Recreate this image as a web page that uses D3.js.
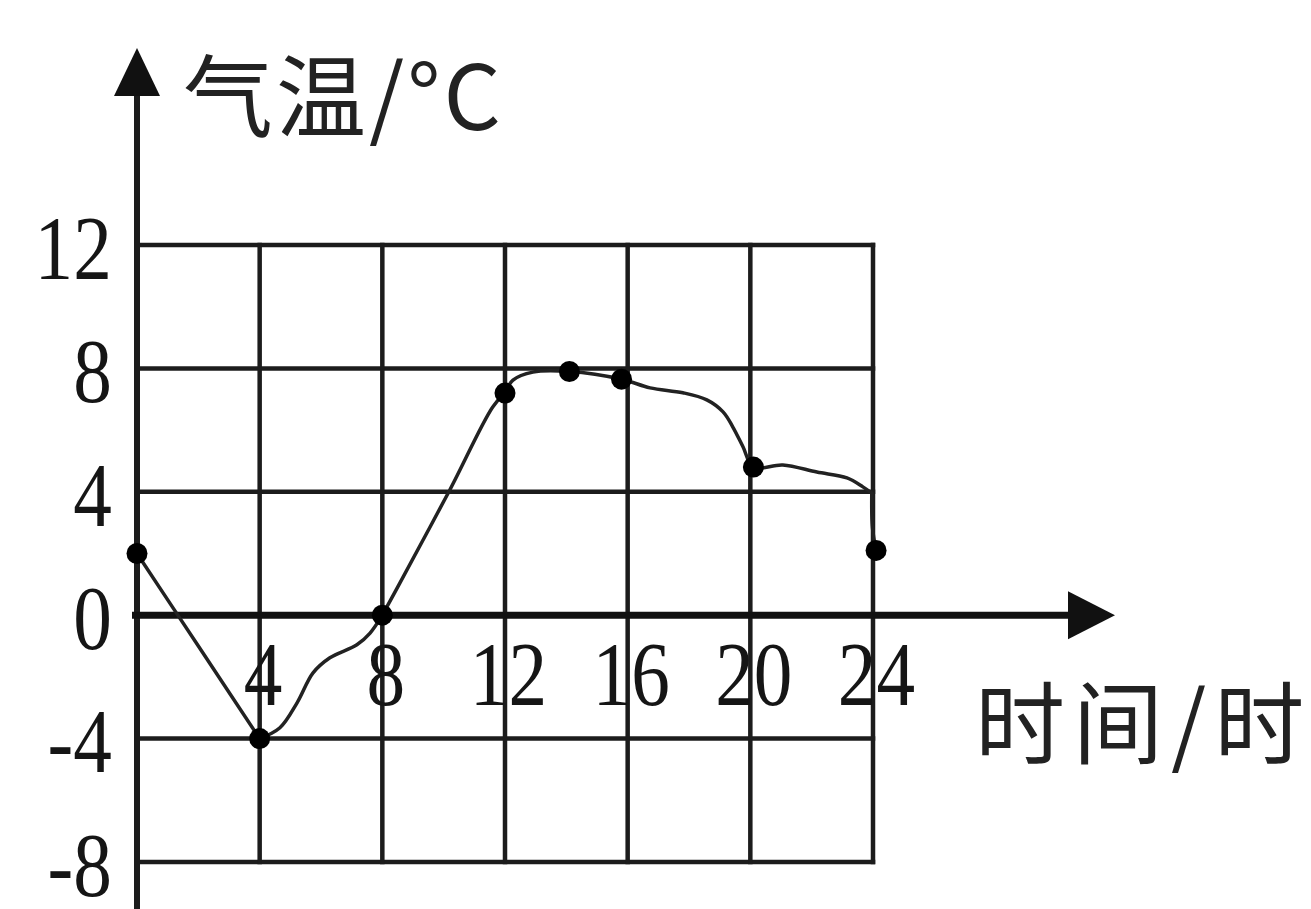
<!DOCTYPE html>
<html>
<head>
<meta charset="utf-8">
<script src="https://cdn.jsdelivr.net/npm/d3@7"></script>
<style>
  html, body { margin: 0; padding: 0; background: #fff; }
  .tick-label { font-family: "Liberation Serif", "Times New Roman", serif; fill: #151515; }
  .title { font-family: "Noto Sans CJK SC", "Noto Sans", sans-serif; fill: #222; }
</style>
</head>
<body>
<div id="chart"></div>
<script>
// ----------------------------------------------------------------------------
// Data: temperature over one day
// ----------------------------------------------------------------------------

const xTicks = [4, 8, 12, 16, 20, 24];
const yTicks = [12, 8, 4, 0, -4, -8];
const xGrid = [4, 8, 12, 16, 20, 24];
const yGrid = [12, 8, 4, -4, -8];

// marked points [hour, temp]
const dotHours = [0, 4, 8, 12, 14.1, 15.8, 20.1, 24.1];
const dotTemps = [2, -4, 0, 7.2, 7.9, 7.65, 4.8, 2.1];

// the drawn curve
const curveHours = [0, 2, 4, 4.66, 5.22, 5.74, 6.29, 7.17, 7.6, 8, 8.57, 10.2, 11.6, 12, 12.26, 12.91, 14.1, 15.8, 16.73, 17.8, 18.58, 19.11, 19.43, 19.76, 20.1, 21.06, 22.17, 23.15, 23.67, 23.96, 23.98, 24.1];
const curveTemps = [2, -1, -4, -3.65, -2.84, -1.87, -1.38, -0.96, -0.58, 0, 1.04, 4.06, 6.75, 7.2, 7.62, 7.88, 7.9, 7.65, 7.37, 7.21, 6.98, 6.59, 6.1, 5.46, 4.8, 4.87, 4.64, 4.45, 4.16, 3.96, 2.86, 2.1];

// hours where the pen made a sharp turn
const cornerHours = [4, 8, 12, 23.96];

const xTitle = '时间/时';
const yTitle = '气温/°C';

// ----------------------------------------------------------------------------
// Setup
// ----------------------------------------------------------------------------

const W = 1311, H = 909;

const svg = d3.select('#chart').append('svg')
  .attr('width', W)
  .attr('height', H)
  .style('display', 'block');

svg.append('rect').attr('width', W).attr('height', H).attr('fill', '#fff');

const x = d3.scaleLinear().domain([0, 24]).range([137, 873]);
const y = d3.scaleLinear().domain([-8, 12]).range([862, 245]);

const ink = '#1c1c1c';

// ----------------------------------------------------------------------------
// grid

const grid = svg.append('g').attr('class', 'grid')
  .attr('stroke', ink)
  .attr('stroke-width', 4.5)
  .attr('stroke-linecap', 'square');

grid.selectAll('.hline')
  .data(yGrid)
  .enter()
  .append('line')
  .attr('x1', x(0))
  .attr('x2', x(24))
  .attr('y1', d => y(d))
  .attr('y2', d => y(d));

grid.selectAll('.vline')
  .data(xGrid)
  .enter()
  .append('line')
  .attr('x1', d => x(d))
  .attr('x2', d => x(d))
  .attr('y1', y(12))
  .attr('y2', y(-8));

// ----------------------------------------------------------------------------
// axes with arrows

const axes = svg.append('g').attr('class', 'axes');

axes.append('line')
  .attr('x1', x(0)).attr('x2', x(0))
  .attr('y1', H).attr('y2', y(12) - 150)
  .attr('stroke', ink).attr('stroke-width', 6);

axes.append('path')
  .attr('d', `M${x(0)},${y(12) - 197} L${x(0) - 23},${y(12) - 149} L${x(0) + 23},${y(12) - 149} Z`)
  .attr('fill', '#111');

axes.append('line')
  .attr('x1', x(0) - 5).attr('x2', 1075)
  .attr('y1', y(0)).attr('y2', y(0))
  .attr('stroke', '#111').attr('stroke-width', 7);

axes.append('path')
  .attr('d', `M1115,${y(0)} L1068,${y(0) - 24} L1068,${y(0) + 24} Z`)
  .attr('fill', '#111');

// tick labels through d3 axes, squeezed like the scan
const yAxis = svg.append('g')
  .attr('transform', `translate(${x(0)},2)`)
  .call(d3.axisLeft(y).tickValues(yTicks).tickSize(0).tickPadding(30).tickFormat(d => String(d)));

const xAxis = svg.append('g')
  .attr('transform', `translate(3,${y(0)})`)
  .call(d3.axisBottom(x).tickValues(xTicks).tickSize(0).tickPadding(0).tickFormat(d => String(d)));

[yAxis, xAxis].forEach(a => {
  a.select('.domain').remove();
  a.selectAll('.tick line').remove();
  a.selectAll('.tick text')
    .attr('class', 'tick-label')
    .attr('fill', null)
    .style('font-size', '92px')
    .attr('transform', 'scale(0.84,1)');
});
yAxis.selectAll('.tick text').attr('dy', '0.34em');
xAxis.selectAll('.tick text').attr('y', 90).attr('dy', 0);

// ----------------------------------------------------------------------------
// titles

svg.append('text')
  .attr('class', 'title')
  .attr('x', 183)
  .attr('y', 130)
  .style('font-size', '90px')
  .style('letter-spacing', '3px')
  .text(yTitle);

svg.append('text')
  .attr('class', 'title')
  .attr('x', 975)
  .attr('y', 757)
  .style('font-size', '90px')
  .style('letter-spacing', '8px')
  .text(xTitle);

// ----------------------------------------------------------------------------
// curve (split at the sharp turns) and dots

const curveData = curveHours.map((h, i) => [h, curveTemps[i]]);
const dotData = dotHours.map((h, i) => [h, dotTemps[i]]);

let pieces = [];
let current = [];
curveData.forEach(p => {
  current.push(p);
  if (cornerHours.includes(p[0])) {
    pieces.push(current);
    current = [p];
  }
});
if (current.length > 1) pieces.push(current);

const valueline = d3.line()
  .x(d => x(d[0]))
  .y(d => y(d[1]))
  .curve(d3.curveCatmullRom.alpha(0.5));

svg.selectAll('.curve')
  .data(pieces)
  .enter()
  .append('path')
  .attr('class', 'curve')
  .attr('d', d => valueline(d))
  .attr('fill', 'none')
  .attr('stroke', '#222')
  .attr('stroke-width', 3.5)
  .attr('stroke-linejoin', 'round')
  .attr('stroke-linecap', 'round');

svg.selectAll('.dot')
  .data(dotData)
  .enter()
  .append('circle')
  .attr('cx', d => x(d[0]))
  .attr('cy', d => y(d[1]))
  .attr('r', 10.5)
  .attr('fill', '#000');
</script>
</body>
</html>
